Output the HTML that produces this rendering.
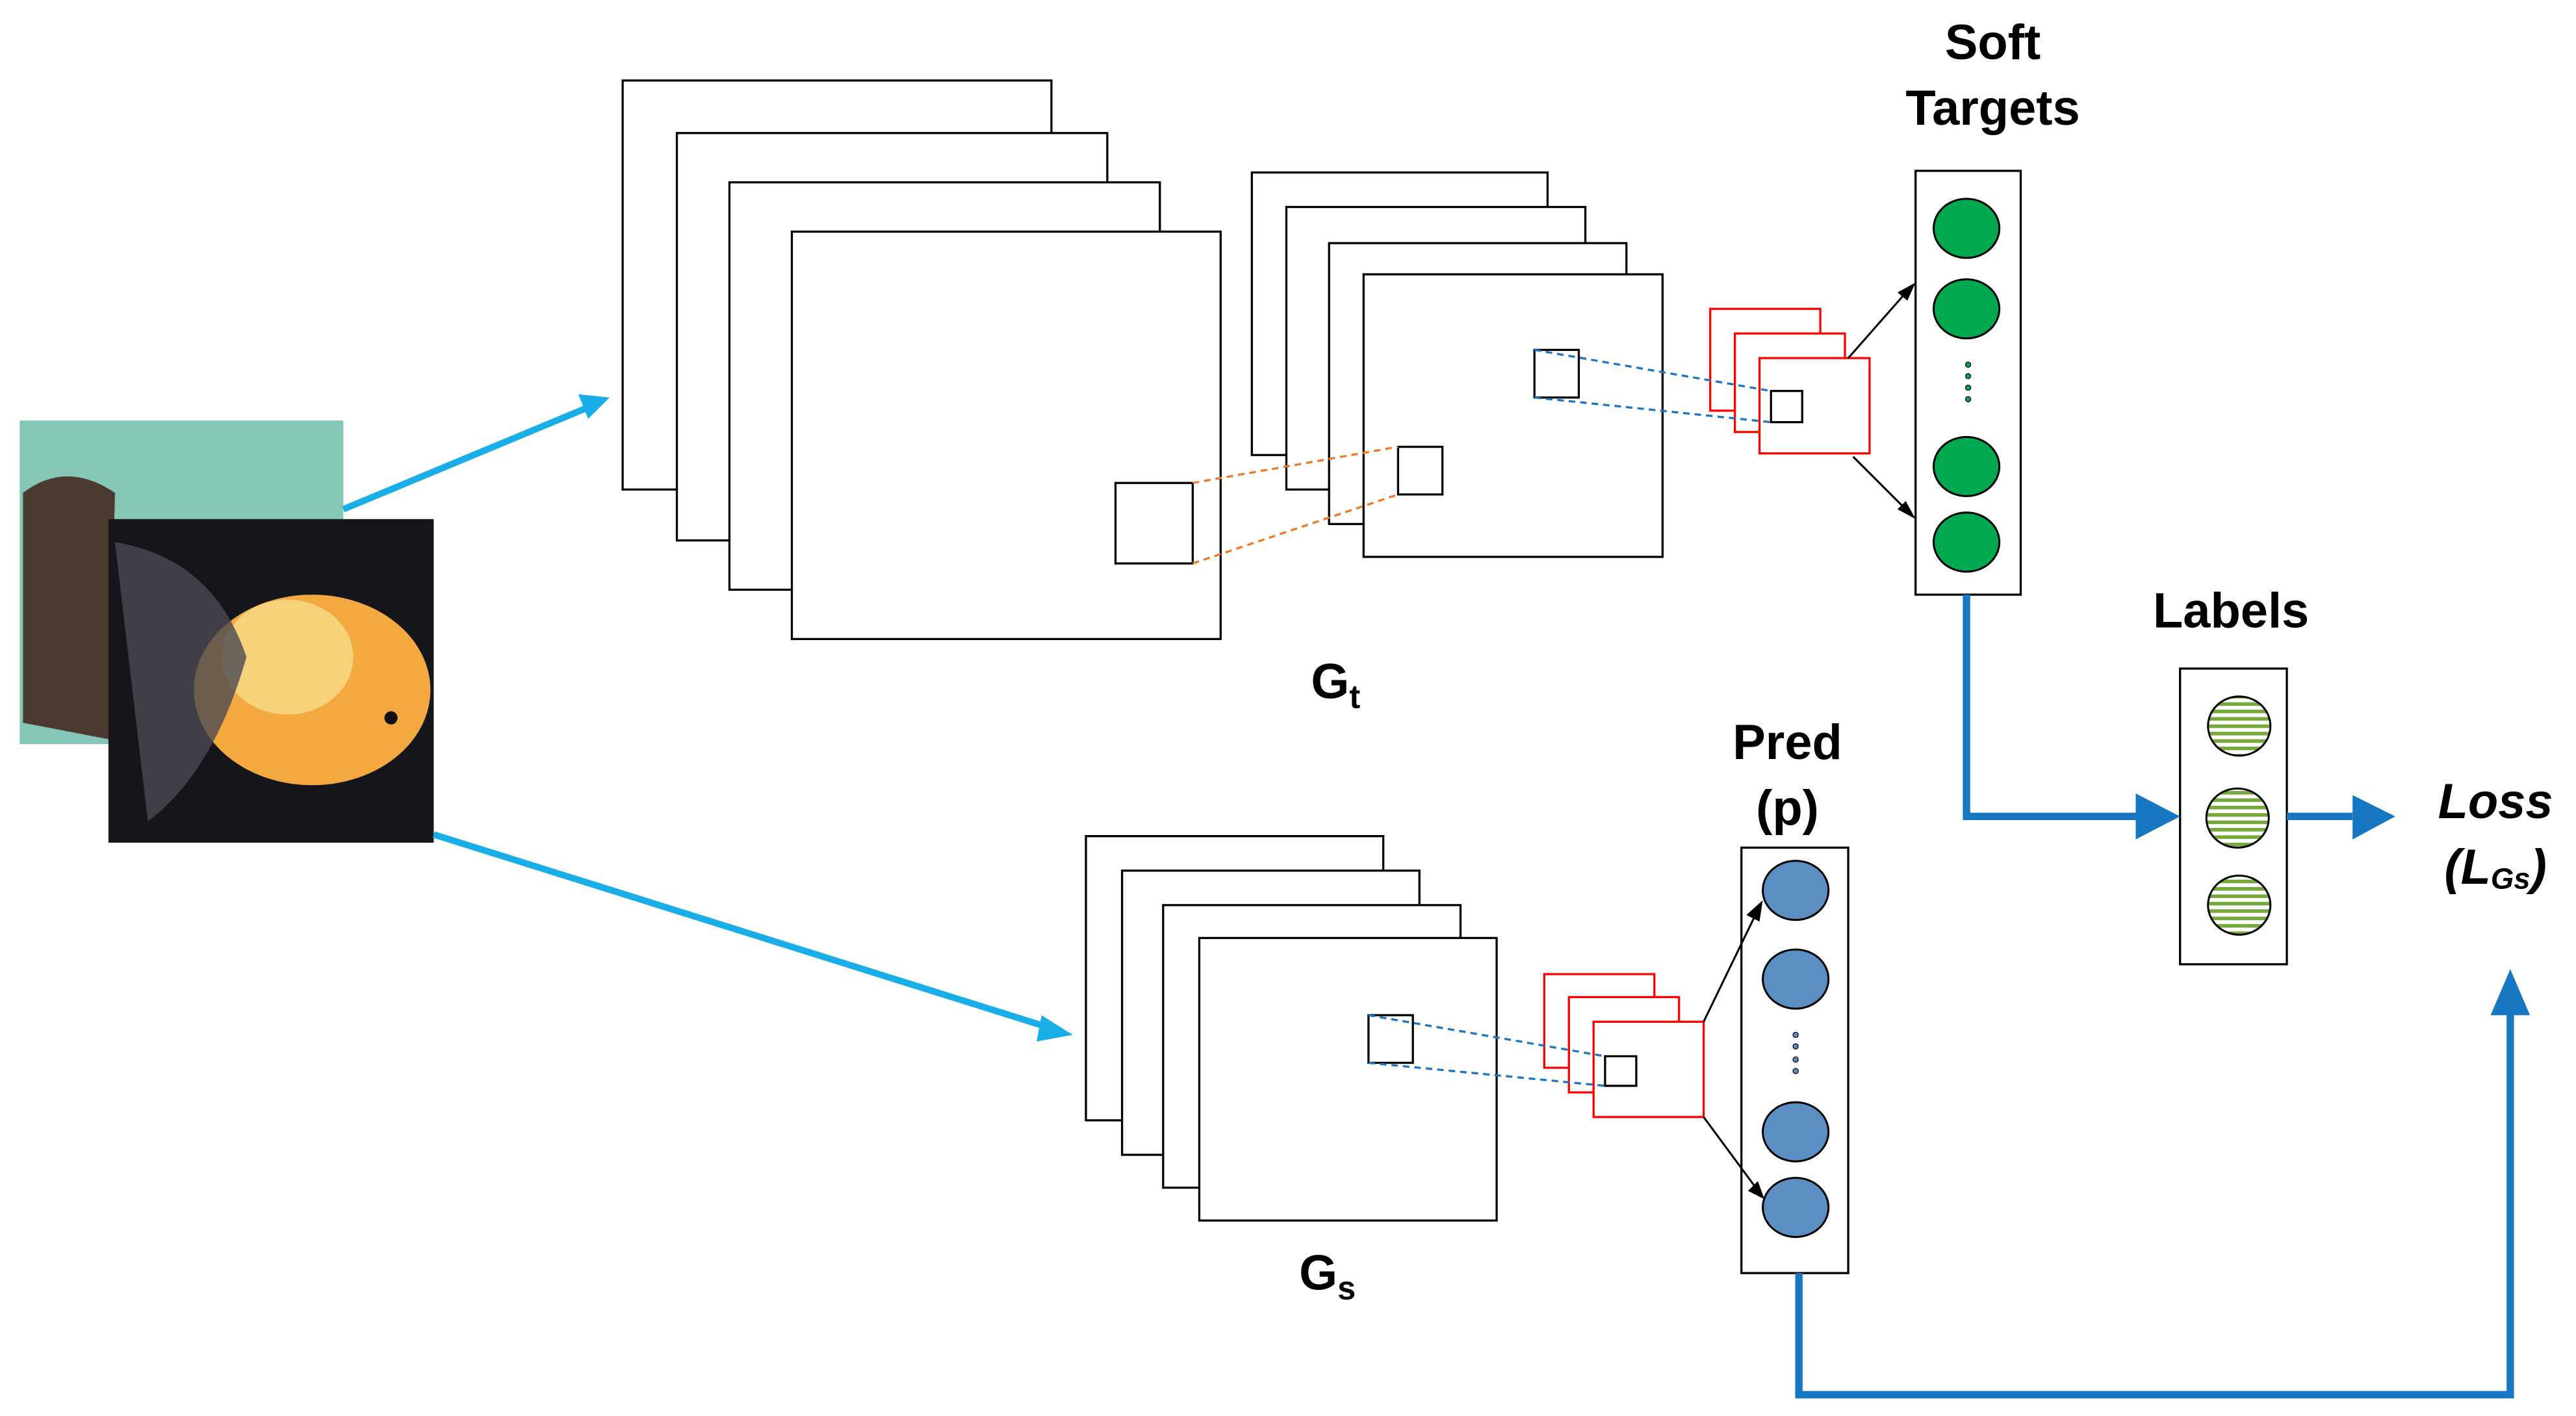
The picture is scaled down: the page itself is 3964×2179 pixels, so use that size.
<!DOCTYPE html>
<html><head><style>html,body{margin:0;padding:0;background:#fff}svg{display:block}</style></head>
<body>
<svg width="3964" height="2179" viewBox="0 0 1568 862" preserveAspectRatio="none" xmlns="http://www.w3.org/2000/svg" font-family="Liberation Sans, Arial, sans-serif">
<defs>
<pattern id="st" width="4" height="4.5" patternUnits="userSpaceOnUse"><rect width="4" height="4.5" fill="#fff"/><rect width="4" height="2.2" fill="#77a83c"/></pattern>
</defs>
<!-- photos -->
<rect x="12" y="256" width="197" height="197" fill="#86c6b6"/>
<path d="M14 300 Q40 280 70 300 L66 450 L14 440 Z" fill="#4a3a30"/>
<rect x="66" y="316" width="198" height="197" fill="#15161c"/>
<ellipse cx="190" cy="420" rx="72" ry="58" fill="#f3a93f"/>
<ellipse cx="175" cy="400" rx="40" ry="35" fill="#f8d27a"/>
<path d="M70 330 Q130 340 150 400 Q130 470 90 500 Z" fill="#4b4a52" opacity="0.8"/>
<circle cx="238" cy="437" r="4" fill="#111"/>
<!-- cyan arrows -->
<g stroke="#1aaee8" stroke-width="4" fill="#1aaee8">
<line x1="209" y1="310" x2="358" y2="248"/>
<line x1="264" y1="508" x2="640" y2="626"/>
</g>
<polygon points="371,242 352,240 358,255" fill="#1aaee8"/>
<polygon points="653,630 634,618 631,634" fill="#1aaee8"/>
<!-- teacher stack -->
<g fill="#fff" stroke="#000" stroke-width="1.3">
<rect x="379" y="49" width="261" height="249"/>
<rect x="412" y="81" width="262" height="248"/>
<rect x="444" y="111" width="262" height="248"/>
<rect x="482" y="141" width="261" height="248"/>
<rect x="679" y="294" width="47" height="49"/>
<rect x="762" y="105" width="180" height="172"/>
<rect x="783" y="126" width="182" height="172"/>
<rect x="809" y="148" width="181" height="171"/>
<rect x="830" y="167" width="182" height="172"/>
<rect x="851" y="272" width="27" height="29"/>
<rect x="934" y="213" width="27" height="29"/>
</g>
<g stroke="#f07820" stroke-width="1.3" stroke-dasharray="4,3"><line x1="726" y1="294" x2="851" y2="272"/><line x1="726" y1="343" x2="851" y2="301"/></g>
<g fill="#fff" stroke="#f00" stroke-width="1.3">
<rect x="1041" y="188" width="67" height="62"/><rect x="1056" y="203" width="67" height="60"/><rect x="1071" y="218" width="67" height="58"/>
</g>
<rect x="1078" y="238" width="19" height="19" fill="#fff" stroke="#000" stroke-width="1.3"/>
<g stroke="#1b74c5" stroke-width="1.3" stroke-dasharray="4,3"><line x1="934" y1="213" x2="1078" y2="238"/><line x1="934" y1="242" x2="1078" y2="257"/></g>
<rect x="1166" y="104" width="64" height="258" fill="#fff" stroke="#000" stroke-width="1.3"/>
<g stroke="#000" stroke-width="1.2"><line x1="1125" y1="218" x2="1162" y2="176"/><line x1="1128" y1="278" x2="1162" y2="312"/></g>
<polygon points="1166,172 1155,178 1161,183" fill="#000"/><polygon points="1166,316 1155,310 1160,305" fill="#000"/>
<g fill="#00a94f" stroke="#000" stroke-width="1.2">
<ellipse cx="1197" cy="139" rx="20" ry="18"/><ellipse cx="1197" cy="188" rx="20" ry="18"/><ellipse cx="1197" cy="284" rx="20" ry="18"/><ellipse cx="1197" cy="330" rx="20" ry="18"/>
</g>
<g fill="#00a94f" stroke="#000" stroke-width="0.5"><circle cx="1198" cy="222" r="1.6"/><circle cx="1198" cy="229" r="1.6"/><circle cx="1198" cy="236" r="1.6"/><circle cx="1198" cy="243" r="1.6"/></g>
<!-- student -->
<g fill="#fff" stroke="#000" stroke-width="1.3">
<rect x="661" y="509" width="181" height="173"/><rect x="683" y="530" width="181" height="173"/><rect x="708" y="551" width="181" height="172"/><rect x="730" y="571" width="181" height="172"/>
<rect x="833" y="618" width="27" height="29"/>
</g>
<g fill="#fff" stroke="#f00" stroke-width="1.3">
<rect x="940" y="593" width="67" height="57"/><rect x="955" y="607" width="67" height="58"/><rect x="970" y="622" width="67" height="58"/>
</g>
<rect x="977" y="643" width="19" height="18" fill="#fff" stroke="#000" stroke-width="1.3"/>
<g stroke="#1b74c5" stroke-width="1.3" stroke-dasharray="4,3"><line x1="833" y1="618" x2="977" y2="643"/><line x1="833" y1="647" x2="977" y2="661"/></g>
<rect x="1060" y="516" width="65" height="259" fill="#fff" stroke="#000" stroke-width="1.3"/>
<g stroke="#000" stroke-width="1.2"><line x1="1037" y1="622" x2="1068" y2="558"/><line x1="1037" y1="680" x2="1068" y2="722"/></g>
<polygon points="1073,548 1063,557 1071,561" fill="#000"/><polygon points="1074,730 1064,725 1070,719" fill="#000"/>
<g fill="#5b8fc4" stroke="#000" stroke-width="1.2">
<ellipse cx="1093" cy="542" rx="20" ry="18"/><ellipse cx="1093" cy="596" rx="20" ry="18"/><ellipse cx="1093" cy="689" rx="20" ry="18"/><ellipse cx="1093" cy="735" rx="20" ry="18"/>
</g>
<g fill="#5b8fc4" stroke="#000" stroke-width="0.5"><circle cx="1093" cy="630" r="1.6"/><circle cx="1093" cy="637" r="1.6"/><circle cx="1093" cy="645" r="1.6"/><circle cx="1093" cy="652" r="1.6"/></g>
<!-- labels -->
<rect x="1327" y="407" width="65" height="180" fill="#fff" stroke="#000" stroke-width="1.3"/>
<g fill="url(#st)" stroke="#000" stroke-width="1.2">
<ellipse cx="1363" cy="442" rx="19" ry="18"/><ellipse cx="1362" cy="498" rx="19" ry="18"/><ellipse cx="1363" cy="551" rx="19" ry="18"/>
</g>
<!-- blue connectors -->
<g stroke="#1777c2" stroke-width="4.5" fill="none">
<polyline points="1197,362 1197,497 1300,497"/>
<line x1="1392" y1="497" x2="1432" y2="497"/>
<polyline points="1095,775 1095,849 1528,849 1528,615"/>
</g>
<g fill="#1777c2">
<polygon points="1300,483 1327,497 1300,511"/>
<polygon points="1432,484 1458,497 1432,511"/>
<polygon points="1516,618 1528,590 1540,618"/>
</g>
<!-- text -->
<g font-weight="bold" font-size="30" text-anchor="middle" fill="#000">
<text x="1213" y="36">Soft</text>
<text x="1213" y="76">Targets</text>
<text x="1358" y="382">Labels</text>
<text x="1088" y="462">Pred</text>
<text x="1088" y="502">(p)</text>
<text x="813" y="425">G<tspan font-size="20" dy="6">t</tspan></text>
<text x="808" y="785">G<tspan font-size="20" dy="6">s</tspan></text>
<text x="1519" y="498" font-style="italic">Loss</text>
<text x="1519" y="538" font-style="italic">(L<tspan font-size="18" dy="3">Gs</tspan><tspan dy="-3">)</tspan></text>
</g>
</svg>
</body></html>
